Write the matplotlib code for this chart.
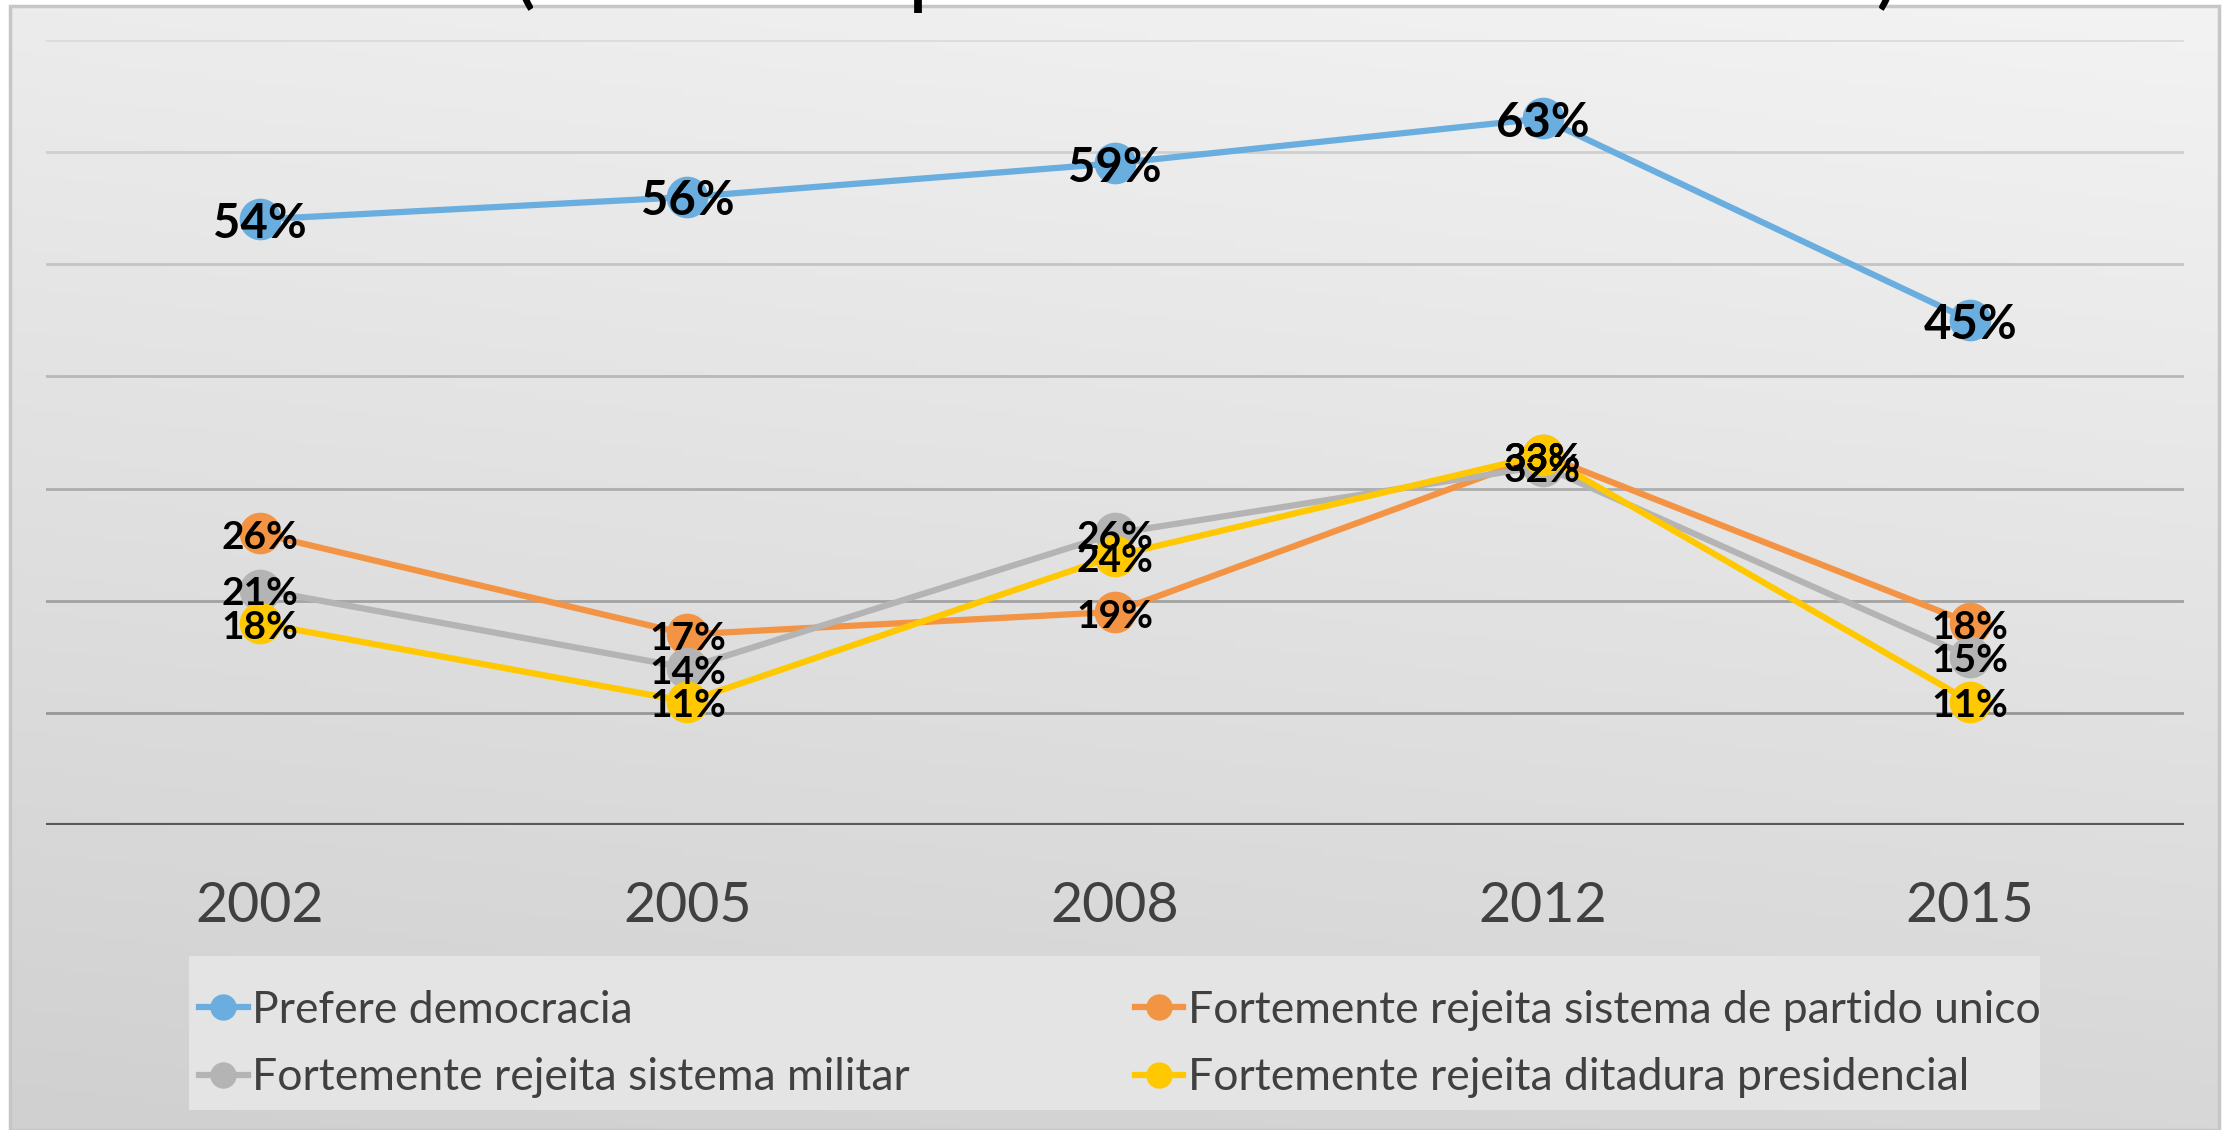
import numpy as np
import matplotlib
matplotlib.use("Agg")
import matplotlib.pyplot as plt
from matplotlib.colors import LinearSegmentedColormap
from matplotlib.patches import Rectangle

plt.rcParams["font.family"] = ["Lato", "DejaVu Sans"]

# data (Afrobarometer survey rounds)
years = ["2002", "2005", "2008", "2012", "2015"]
prefere_democracia = [0.54, 0.56, 0.59, 0.63, 0.45]
rejeita_partido_unico = [0.26, 0.17, 0.19, 0.33, 0.18]
rejeita_militar = [0.21, 0.14, 0.26, 0.32, 0.15]
rejeita_ditadura = [0.18, 0.11, 0.24, 0.33, 0.11]

series_names = [
    "Prefere democracia",
    "Fortemente rejeita sistema de partido unico",
    "Fortemente rejeita sistema militar",
    "Fortemente rejeita ditadura presidencial",
]
title = "Autoritários (Fonte: Inquérito do Afrobarómetro)"
grid_values = [0.1, 0.2, 0.3, 0.4, 0.5, 0.6, 0.7]

W, H = 2224, 1130
fig = plt.figure(figsize=(W / 100, H / 100), dpi=100)
fig.patch.set_facecolor("white")

# chart area background with soft gradient
top_gap = 6
bg = fig.add_axes([10 / W, 0, (2219 - 10) / W, (H - top_gap) / H])
bg.set_zorder(-5)
yy, xx = np.mgrid[0:1:200j, 0:1:200j]
shade = 0.8 * yy + 0.2 * (1 - xx)
cmap = LinearSegmentedColormap.from_list("bg", ["#f3f3f3", "#d0d0d0"])
bg.imshow(shade, cmap=cmap, aspect="auto", extent=[0, 1, 0, 1], origin="upper")
bg.set_axis_off()
bg.add_patch(Rectangle((0, 0), 1, 1, transform=bg.transAxes, fill=False,
                       edgecolor="#c6c6c6", linewidth=2.5, clip_on=False))
# legend background box
bg.add_patch(Rectangle((189 / W, 1 - 1110 / H), (2040 - 189) / W, (1110 - 956) / H,
                       transform=fig.transFigure, facecolor="#e4e4e4",
                       edgecolor="none"))

# title sits mostly above the canvas, only its lower edge shows
fig.text(33 / W, 1 - 13 / H, title, fontsize=63, ha="left", va="bottom",
         color="black", zorder=10)

ax = fig.add_axes([46 / W, 1 - 825 / H, (2184 - 46) / W, (825 - 40) / H])
ax.set_facecolor("none")
x = np.arange(len(years))

grid_colors = ["#979797", "#a2a2a2", "#adadad", "#b8b8b8", "#c4c4c4", "#cfcfcf", "#dcdcdc"]
for gv, gc in zip(grid_values, grid_colors):
    ax.axhline(gv, color=gc, linewidth=2, zorder=0)
ax.axhline(0, color="#595959", linewidth=3, zorder=1)

styles = [
    (prefere_democracia, "#6aaee0", 34),
    (rejeita_partido_unico, "#f29444", 28),
    (rejeita_militar, "#b4b4b4", 28),
    (rejeita_ditadura, "#ffc800", 28),
]
handles = []
for (vals, color, fs), name in zip(styles, series_names):
    ln, = ax.plot(x, vals, color=color, linewidth=4.5, marker="o", markersize=29,
                  label=name, zorder=3)
    handles.append(ln)
for vals, color, fs in styles:
    for xi, v in zip(x, vals):
        ax.annotate(f"{v * 100:.0f}%", (xi, v), xytext=(0, -3), textcoords="offset points",
                    ha="center", va="center", fontsize=fs, fontweight="bold",
                    color="black", zorder=5)

ax.set_xlim(-0.5, len(years) - 0.5)
ax.set_ylim(0, 0.7)
ax.set_xticks(x)
ax.set_xticklabels(years, fontsize=40, color="#404040")
ax.set_yticks([])
ax.tick_params(axis="x", length=0, pad=40)
for s in ax.spines.values():
    s.set_visible(False)

leg = ax.legend(handles=[handles[0], handles[2], handles[1], handles[3]], ncol=2,
                loc="center left", bbox_to_anchor=(199 / W, 1 - 1044 / H),
                bbox_transform=fig.transFigure, frameon=False, fontsize=32,
                handlelength=1.1, handletextpad=0.1, columnspacing=5.05,
                labelspacing=0.6, borderpad=0, borderaxespad=0, markerscale=0.62)
for t in leg.get_texts():
    t.set_color("#404040")

fig.savefig("out.png", dpi=100)
